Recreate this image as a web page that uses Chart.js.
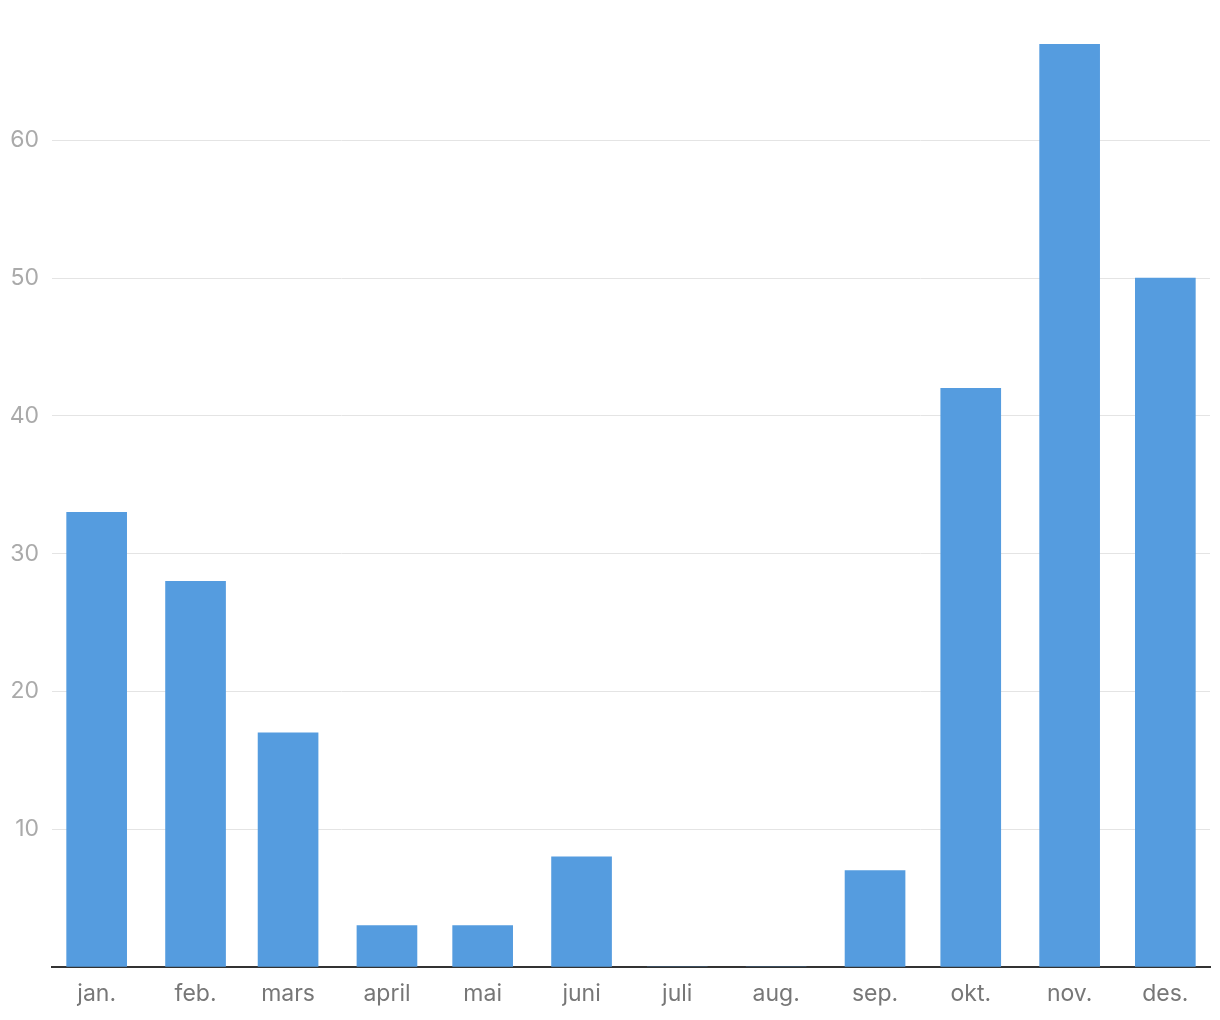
<!DOCTYPE html>
<html>
<head>
<meta charset="utf-8">
<script src="https://cdn.jsdelivr.net/npm/chart.js@4/dist/chart.umd.min.js"></script>
<style>
  html, body { margin: 0; padding: 0; background: #ffffff; }
  #wrap { width: 1220px; height: 1020px; position: relative; }
</style>
</head>
<body>
<div id="wrap"><canvas id="c"></canvas></div>
<script>
const monthLabels = ["jan.", "feb.", "mars", "april", "mai", "juni", "juli", "aug.", "sep.", "okt.", "nov.", "des."];
// day of (leap) year at which each month starts (time-like x positions)
const monthStartDays = [0, 31, 60, 91, 121, 152, 182, 213, 244, 274, 305, 335];
const values = [33, 28, 17, 3, 3, 8, 0, 0, 7, 42, 67, 50];
const yTickValues = [0, 10, 20, 30, 40, 50, 60];

const points = monthStartDays.map((d, i) => ({ x: d, y: values[i] }));

new Chart(document.getElementById('c'), {
  type: 'bar',
  data: {
    datasets: [{
      data: points,
      backgroundColor: '#559cdf',
      borderWidth: 0,
      barThickness: 60
    }]
  },
  options: {
    responsive: true,
    maintainAspectRatio: false,
    animation: false,
    layout: { padding: { top: 44, right: 10, left: 0, bottom: 0 } },
    plugins: { legend: { display: false }, tooltip: { enabled: false } },
    scales: {
      x: {
        type: 'linear',
        offset: false,
        min: -14,
        max: 349,
        grid: { display: false, drawTicks: false },
        border: { display: true, color: '#333333', width: 2 },
        afterBuildTicks: (scale) => { scale.ticks = monthStartDays.map(v => ({ value: v })); },
        afterFit: (scale) => { scale.height = 53; },
        ticks: {
          autoSkip: false,
          maxRotation: 0,
          padding: 13,
          color: '#777777',
          font: { family: 'Inter', size: 23 },
          callback: (value) => monthLabels[monthStartDays.indexOf(value)]
        }
      },
      y: {
        min: 0,
        max: 67,
        grid: { color: '#e4e4e4', lineWidth: 1, drawTicks: false },
        border: { display: false },
        afterBuildTicks: (scale) => { scale.ticks = yTickValues.map(v => ({ value: v })); },
        afterFit: (scale) => { scale.width = 52; },
        ticks: {
          padding: 13,
          color: '#aaaaaa',
          font: { family: 'Inter', size: 23 },
          callback: (value) => value === 0 ? '' : String(value)
        }
      }
    }
  }
});
</script>
</body>
</html>
